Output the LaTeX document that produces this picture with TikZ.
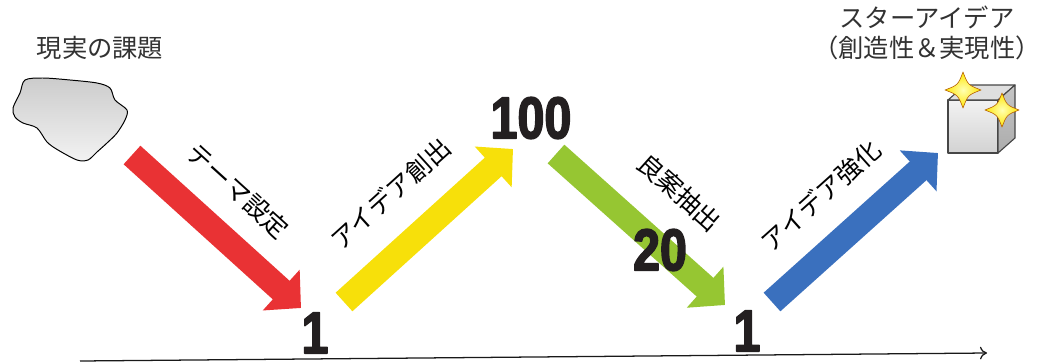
\documentclass[tikz,border=0pt]{standalone}
\usepackage{fontspec}
\usetikzlibrary{arrows.meta}
\newfontfamily\jp{Noto Sans CJK JP}
\newfontfamily\numfont[FakeStretch=0.82,BoldFeatures={FakeBold=2.5}]{Liberation Sans}

\definecolor{flowred}{RGB}{233,50,52}
\definecolor{flowyellow}{RGB}{247,224,10}
\definecolor{flowgreen}{RGB}{150,198,50}
\definecolor{flowblue}{RGB}{58,112,190}
\definecolor{numink}{RGB}{35,31,32}
\definecolor{textink}{RGB}{50,50,50}

\begin{document}
\begin{tikzpicture}[
    x=0.025cm, y=-0.025cm,
    line join=round,
    flow/.style={
      draw=#1,
      line width=17.8pt,
      -{Triangle[length=19pt,width=38pt]}
    },
    arrowtext/.style={
      sloped,
      yshift=#1,
      font=\jp\fontsize{18}{20}\selectfont
    },
    count/.style={
      text=numink,
      inner sep=0pt,
      font=\numfont\bfseries\fontsize{42}{42}\selectfont
    },
    caption/.style={
      text=textink,
      align=center,
      font=\jp\fontsize{18}{21}\selectfont
    },
    sparkle/.style={
      draw=orange!70!black,
      line width=0.4pt,
      inner color=yellow!30!white,
      outer color=yellow!80!orange
    }
]
\useasboundingbox (0,0) rectangle (1044,362);

% end points of the four steps
\coordinate (r0) at (132,155);
\coordinate (r1) at (301,308);
\coordinate (y0) at (344,302);
\coordinate (y1) at (513,149);
\coordinate (g0) at (556,154);
\coordinate (g1) at (725,305);
\coordinate (b0) at (772,302);
\coordinate (b1) at (938,153);

% rock
\shade[top color=gray!40, bottom color=gray!10, draw=black, line width=0.7pt]
  plot[smooth cycle, tension=0.5] coordinates {
    (25,80) (43,78) (70,80) (97,83) (110,88) (115,100) (127,110)
    (125,120) (117,133) (107,143) (97,152) (88,160) (77,160)
    (58,150) (47,142) (37,128) (23,123) (15,117) (13,108) (20,93)};
\node[caption] (issue) at (100,48) {現実の課題};

% cube
\begin{scope}[draw=gray!55!black, line width=0.8pt]
  \shade[top color=gray!10, bottom color=gray!35, draw=gray!55!black]
    (948,100) rectangle (998,153);
  \filldraw[fill=gray!25] (948,100) -- (965,85) -- (1015,85) -- (998,100) -- cycle;
  \shade[top color=gray!45, bottom color=gray!65, draw=gray!55!black]
    (998,100) -- (1015,85) -- (1015,138) -- (998,153) -- cycle;
\end{scope}
\foreach \sx/\sy/\s in {963/90/1, 1002/110/0.95} {
  \shade[sparkle, shift={(\sx,\sy)}, scale=\s]
    (0,-18) .. controls (5,-5) .. (18,0) .. controls (5,5) .. (0,18)
    .. controls (-5,5) .. (-18,0) .. controls (-5,-5) .. cycle;
}
\node[caption] (star) at (927,33) {スターアイデア\\（創造性＆実現性）};

% steps
\draw[flow=flowred] (r0) -- node[pos=0.45, arrowtext=32pt] {テーマ設定} (r1);
\draw[flow=flowyellow] (y0) -- node[pos=0.47, arrowtext=35pt] {アイデア創出} (y1);
\draw[flow=flowgreen] (g0) -- node[pos=0.52, arrowtext=38pt] {良案抽出} (g1);
\draw[flow=flowblue] (b0) -- node[pos=0.48, arrowtext=33pt] {アイデア強化} (b1);

% counts
\node[count] (n1a) at (315,333) {1};
\node[count] (n100) at (531,118) {100};
\node[count] (n20) at (660,250) {20};
\node[count] (n1b) at (747,331) {1};

% time line
\coordinate (t0) at (80,361);
\coordinate (t1) at (987,353);
\draw[gray!20!black, line width=0.9pt, -{To[length=5pt,width=9pt]}] (t0) -- (t1);
\end{tikzpicture}
\end{document}
